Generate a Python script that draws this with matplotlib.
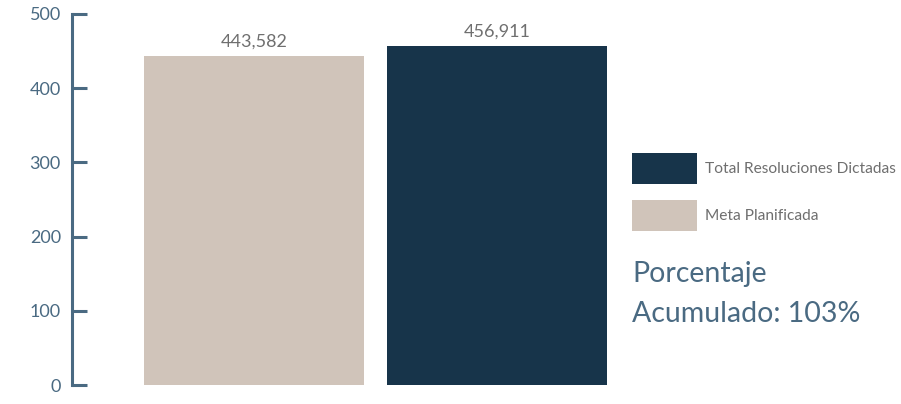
import matplotlib
matplotlib.use("Agg")
import matplotlib.pyplot as plt
from matplotlib.patches import Rectangle

categories = ["Meta Planificada", "Total Resoluciones Dictadas"]
values = [443.582, 456.911]
value_labels = ["443,582", "456,911"]
colors = ["#d0c4ba", "#17344a"]
yticks = [0, 100, 200, 300, 400, 500]
summary = "Porcentaje\nAcumulado: 103%"

plt.rcParams['font.family'] = ['Lato', 'DejaVu Sans']
axis_col = "#4a6a82"
text_grey = "#6f6f6f"

W, H = 901, 404
fig = plt.figure(figsize=(W/100, H/100), dpi=100)
ax = fig.add_axes([72/W, 19/H, 548/W, 371/H])

x = list(range(len(values)))
bars = ax.bar(x, values, width=0.903, color=colors)
for b, lab in zip(bars, value_labels):
    ax.annotate(lab, (b.get_x() + b.get_width()/2, b.get_height()),
                xytext=(0, 4.5), textcoords="offset points",
                ha="center", va="bottom", fontsize=13, color=text_grey)

ax.set_xlim(-0.746, 1.503)
ax.set_ylim(0, 500)
ax.set_yticks(yticks)
ax.set_xticks([])
for s in ["top", "right", "bottom"]:
    ax.spines[s].set_visible(False)
ax.spines["left"].set_color(axis_col)
ax.spines["left"].set_linewidth(2.2)
ax.tick_params(axis="y", direction="in", length=10.5, width=2.2, color=axis_col,
               labelcolor=axis_col, labelsize=13, pad=8)

# legend (manual, figure pixel coordinates)
legend_items = [(categories[1], colors[1], 153), (categories[0], colors[0], 200)]
for label, col, top in legend_items:
    fig.add_artist(Rectangle((632/W, 1 - (top + 31)/H), 65/W, 31/H,
                             transform=fig.transFigure, color=col, lw=0))
    fig.text(705/W, 1 - (top + 15.5)/H, label, ha="left", va="center",
             fontsize=11.2, color=text_grey)

fig.text(632/W, 1 - 261/H, summary, ha="left", va="top", fontsize=20.5,
         color=axis_col, linespacing=1.68)

fig.savefig("out.png", dpi=100)
